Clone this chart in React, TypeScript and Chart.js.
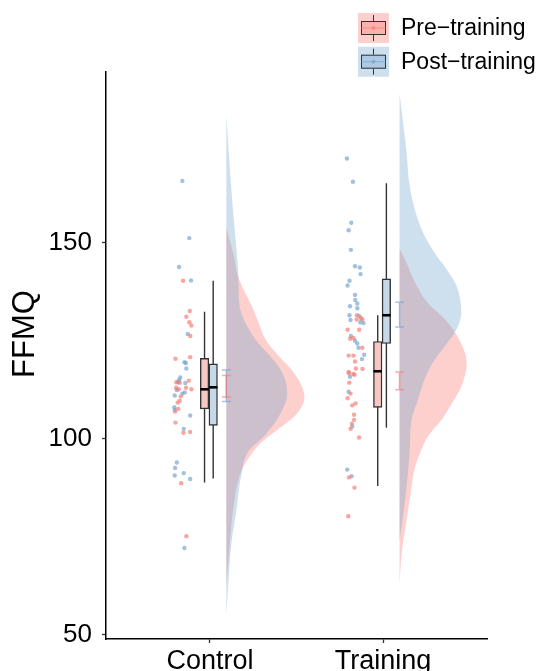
import React, { useEffect, useRef } from 'react';
import { Chart, registerables } from 'chart.js';

Chart.register(...registerables);

// ---------------- data ----------------
const GROUPS = ['Control', 'Training'];
const CONDITIONS = ['Pre\u2212training', 'Post\u2212training'];
const Y_TICKS = [50, 100, 150];
const Y_TITLE = 'FFMQ';

// raw scores (rain) and their jittered x positions
const CONTROL_PRE_Y = [140.3, 132.6, 131.1, 129.7, 128.9, 126.2, 120.8, 120.4, 114.8, 114.4, 114.3, 113.0, 113.0, 112.6, 112.6, 110.8, 109.7, 109.2, 107.6, 106.9, 104.1, 101.5, 101.7, 88.6, 75.1];
const CONTROL_PRE_X = [0.845, 0.884, 0.864, 0.881, 0.893, 0.887, 0.886, 0.801, 0.878, 0.806, 0.826, 0.805, 0.862, 0.820, 0.893, 0.832, 0.826, 0.814, 0.818, 0.799, 0.801, 0.847, 0.886, 0.834, 0.864];
const CONTROL_POST_Y = [165.8, 151.2, 143.8, 140.4, 126.7, 119.5, 119.3, 117.9, 115.6, 115.0, 114.4, 114.2, 112.4, 111.8, 111.5, 111.0, 108.0, 107.4, 105.9, 102.5, 93.9, 92.5, 91.2, 90.6, 89.7, 72.1];
const CONTROL_POST_X = [0.841, 0.881, 0.822, 0.891, 0.872, 0.853, 0.861, 0.864, 0.829, 0.822, 0.816, 0.858, 0.809, 0.855, 0.841, 0.797, 0.795, 0.797, 0.886, 0.849, 0.809, 0.799, 0.849, 0.797, 0.886, 0.853];
const TRAINING_PRE_Y = [131.5, 130.8, 130.4, 130.4, 127.8, 127.8, 125.5, 125.7, 123.2, 121.2, 121.2, 119.7, 117.9, 117.8, 117.0, 116.7, 116.5, 116.3, 114.3, 111.5, 110.3, 108.5, 109.0, 106.1, 104.8, 103.8, 102.5, 100.3, 90.1, 87.5, 80.2];
const TRAINING_PRE_X = [1.849, 1.872, 1.881, 1.847, 1.795, 1.862, 1.810, 1.829, 1.880, 1.801, 1.829, 1.838, 1.843, 1.881, 1.801, 1.803, 1.828, 1.835, 1.805, 1.812, 1.795, 1.822, 1.841, 1.832, 1.832, 1.820, 1.812, 1.861, 1.803, 1.835, 1.799];
const TRAINING_POST_Y = [171.5, 165.6, 155.1, 153.2, 148.2, 144.0, 143.7, 142.0, 140.3, 139.1, 136.7, 135.4, 134.5, 133.8, 133.3, 131.5, 131.3, 130.3, 129.7, 129.5, 126.2, 125.0, 124.3, 123.2, 121.4, 120.3, 115.8, 112.0, 103.1, 92.1, 90.4];
const TRAINING_POST_X = [1.791, 1.826, 1.816, 1.801, 1.814, 1.838, 1.866, 1.870, 1.806, 1.795, 1.838, 1.839, 1.851, 1.809, 1.851, 1.806, 1.862, 1.812, 1.868, 1.887, 1.814, 1.838, 1.851, 1.858, 1.891, 1.878, 1.809, 1.801, 1.822, 1.793, 1.818];

// box stats: [lower whisker, Q1, median, Q3, upper whisker]
const CONTROL_PRE_BOX = [88.8, 107.6, 112.6, 120.5, 132.4];
const CONTROL_POST_BOX = [89.8, 103.4, 113.1, 119.1, 140.3];
const TRAINING_PRE_BOX = [87.9, 108.0, 117.2, 124.8, 131.5];
const TRAINING_POST_BOX = [102.8, 124.3, 131.5, 140.8, 165.2];

// mean +/- SE: [low, high]
const CONTROL_PRE_SE = [110.6, 116.1];
const CONTROL_POST_SE = [109.5, 117.5];
const TRAINING_PRE_SE = [112.5, 117.0];
const TRAINING_POST_SE = [128.5, 134.8];

// density clouds: score levels and relative density
const CONTROL_PRE_DENS_Y = [153.7, 147.2, 141.1, 134.1, 129.8, 125.4, 121.1, 116.7, 110.6, 106.3, 101.9, 99.3, 94.9, 90.6, 81.9, 73.2, 62.7];
const CONTROL_PRE_DENS = [0, 0.09, 0.154, 0.32, 0.41, 0.5, 0.67, 0.87, 1.0, 0.9, 0.63, 0.46, 0.28, 0.17, 0.087, 0.044, 0];
const CONTROL_POST_DENS_Y = [182.5, 170.8, 160.3, 154.2, 141.1, 134.1, 129.8, 125.4, 121.1, 116.7, 111.5, 106.3, 101.0, 96.7, 90.6, 81.9, 73.2, 64.4, 54.9];
const CONTROL_POST_DENS = [0, 0.038, 0.077, 0.103, 0.154, 0.167, 0.24, 0.37, 0.56, 0.72, 0.78, 0.69, 0.5, 0.28, 0.19, 0.13, 0.064, 0.03, 0];
const TRAINING_PRE_DENS_Y = [148.5, 146.0, 139.0, 134.6, 130.5, 126.2, 119.2, 113.3, 109.0, 104.9, 100.5, 96.2, 92.1, 87.7, 79.2, 70.5, 62.8];
const TRAINING_PRE_DENS = [0, 0.064, 0.22, 0.36, 0.58, 0.74, 0.86, 0.79, 0.67, 0.54, 0.36, 0.26, 0.19, 0.154, 0.09, 0.026, 0];
const TRAINING_POST_DENS_Y = [188.2, 181.8, 173.1, 164.6, 156.2, 151.8, 147.4, 143.3, 139.0, 132.1, 127.9, 123.6, 119.2, 115.1, 109.0, 104.9, 96.2, 87.7, 79.2, 74.1];
const TRAINING_POST_DENS = [0, 0.038, 0.09, 0.128, 0.23, 0.32, 0.45, 0.6, 0.73, 0.79, 0.73, 0.58, 0.42, 0.32, 0.22, 0.154, 0.128, 0.09, 0.038, 0];

// ---------------- layout / style ----------------
const X_MIN = 0.4;
const X_MAX = 2.6;
const Y_MIN = 48.85;
const Y_MAX = 193.6;
const PRE_BOX_OFF = -0.031;
const POST_BOX_OFF = 0.019;
const CLOUD_OFF = 0.095;
const CLOUD_SCALE = 0.451;
const CAP_HALF = 0.026;
const BOX_HALF = 0.0246;

const PINK = '248,118,109';
const BLUE = '112,161,206';
const FONT = '"Liberation Sans", Arial, Helvetica, sans-serif';

function seg(points: { x: number; y: number }[], color: string, width: number, order: number) {
  return {
    type: 'line' as const,
    data: points,
    borderColor: color,
    borderWidth: width,
    pointRadius: 0,
    fill: false,
    tension: 0,
    borderJoinStyle: 'bevel' as const,
    order,
  };
}

export default function App() {
  const ref = useRef<HTMLCanvasElement | null>(null);

  useEffect(() => {
    document.body.style.margin = '0';
    const canvas = ref.current;
    if (!canvas) return;

    const groupsData = [
      { g: 1, pre: { y: CONTROL_PRE_Y, x: CONTROL_PRE_X, box: CONTROL_PRE_BOX, se: CONTROL_PRE_SE, dy: CONTROL_PRE_DENS_Y, d: CONTROL_PRE_DENS },
        post: { y: CONTROL_POST_Y, x: CONTROL_POST_X, box: CONTROL_POST_BOX, se: CONTROL_POST_SE, dy: CONTROL_POST_DENS_Y, d: CONTROL_POST_DENS } },
      { g: 2, pre: { y: TRAINING_PRE_Y, x: TRAINING_PRE_X, box: TRAINING_PRE_BOX, se: TRAINING_PRE_SE, dy: TRAINING_PRE_DENS_Y, d: TRAINING_PRE_DENS },
        post: { y: TRAINING_POST_Y, x: TRAINING_POST_X, box: TRAINING_POST_BOX, se: TRAINING_POST_SE, dy: TRAINING_POST_DENS_Y, d: TRAINING_POST_DENS } },
    ];

    const datasets: any[] = [];
    const conds = [
      { key: 'pre', rgb: PINK, boxFill: '#F7C7C3', off: PRE_BOX_OFF, vOrder: 6 },
      { key: 'post', rgb: BLUE, boxFill: '#C6D9EB', off: POST_BOX_OFF, vOrder: 5 },
    ];

    for (const c of conds) {
      // boxes (floating bars)
      datasets.push({
        type: 'bar',
        data: groupsData.map((gd) => {
          const b = (gd as any)[c.key].box;
          return { x: gd.g + c.off, y: [b[1], b[3]] };
        }),
        backgroundColor: c.boxFill,
        borderColor: '#333333',
        borderWidth: 1.4,
        borderSkipped: false,
        barThickness: 8.5,
        grouped: false,
        order: 8,
      });
    }

    for (const gd of groupsData) {
      for (const c of conds) {
        const s = (gd as any)[c.key];
        // rain
        datasets.push({
          type: 'scatter',
          data: s.y.map((v: number, i: number) => ({ x: s.x[i], y: v })),
          backgroundColor: `rgba(${c.rgb},0.66)`,
          borderWidth: 0,
          pointRadius: 2.2,
          order: 10,
        });
        // whisker
        const bx = gd.g + c.off;
        datasets.push(seg([{ x: bx, y: s.box[0] }, { x: bx, y: s.box[4] }], '#333333', 1.4, 9));
        // median
        datasets.push(seg([{ x: bx - BOX_HALF, y: s.box[2] }, { x: bx + BOX_HALF, y: s.box[2] }], '#000000', 2.6, 7));
        // cloud
        const base = gd.g + CLOUD_OFF;
        datasets.push({
          type: 'line',
          indexAxis: 'y',
          data: s.dy.map((v: number, i: number) => ({ x: base + s.d[i] * CLOUD_SCALE, y: v })),
          borderWidth: 0,
          borderColor: 'rgba(0,0,0,0)',
          backgroundColor: `rgba(${c.rgb},0.34)`,
          pointRadius: 0,
          fill: 'shape',
          cubicInterpolationMode: 'monotone',
          order: c.vOrder,
        });
        // mean +/- SE
        const lo = s.se[0];
        const hi = s.se[1];
        datasets.push(
          seg(
            [
              { x: base - CAP_HALF, y: hi },
              { x: base + CAP_HALF, y: hi },
              { x: base, y: hi },
              { x: base, y: lo },
              { x: base - CAP_HALF, y: lo },
              { x: base + CAP_HALF, y: lo },
            ],
            `rgba(${c.rgb},0.6)`,
            1.5,
            4
          )
        );
      }
    }

    const decor = {
      id: 'decor',
      afterDraw(chart: any) {
        const ctx = chart.ctx;
        // y title
        ctx.save();
        ctx.fillStyle = '#000';
        ctx.font = `31px ${FONT}`;
        ctx.textAlign = 'center';
        ctx.textBaseline = 'middle';
        ctx.translate(25, 334);
        ctx.rotate(-Math.PI / 2);
        ctx.fillText(Y_TITLE, 0, 0);
        ctx.restore();

        // legend
        const rgbs = [PINK, BLUE];
        for (let i = 0; i < CONDITIONS.length; i++) {
          const kx = 358;
          const ky = 13 + i * 33.7;
          const kw = 31;
          const kh = 30;
          ctx.save();
          ctx.fillStyle = `rgba(${rgbs[i]},0.34)`;
          ctx.fillRect(kx, ky, kw, kh);
          ctx.strokeStyle = '#333';
          ctx.lineWidth = 1;
          const cx = kx + kw / 2;
          ctx.beginPath();
          ctx.moveTo(cx, ky + 2);
          ctx.lineTo(cx, ky + 8);
          ctx.moveTo(cx, ky + kh - 8);
          ctx.lineTo(cx, ky + kh - 2);
          ctx.stroke();
          ctx.fillStyle = `rgba(${rgbs[i]},0.35)`;
          ctx.fillRect(kx + 3, ky + 8, kw - 6, kh - 16);
          ctx.strokeRect(kx + 3 + 0.5, ky + 8 + 0.5, kw - 7, kh - 17);
          ctx.strokeStyle = `rgba(${rgbs[i]},0.6)`;
          ctx.beginPath();
          ctx.moveTo(kx + 3, ky + kh / 2);
          ctx.lineTo(kx + kw - 3, ky + kh / 2);
          ctx.stroke();
          ctx.fillStyle = `rgba(${rgbs[i]},0.6)`;
          ctx.beginPath();
          ctx.arc(cx, ky + kh / 2, 2, 0, Math.PI * 2);
          ctx.fill();
          ctx.fillStyle = '#000';
          ctx.font = `23px ${FONT}`;
          ctx.textAlign = 'left';
          ctx.textBaseline = 'middle';
          ctx.fillText(CONDITIONS[i], 401, ky + kh / 2 + 1);
          ctx.restore();
        }
      },
    };

    const chart = new Chart(canvas, {
      type: 'scatter',
      data: { datasets },
      options: {
        responsive: false,
        animation: false,
        events: [],
        devicePixelRatio: 1,
        layout: { padding: { left: 0, right: 53, top: 72, bottom: 0 } },
        plugins: { legend: { display: false }, tooltip: { enabled: false }, title: { display: false } },
        scales: {
          x: {
            type: 'linear',
            offset: false,
            min: X_MIN,
            max: X_MAX,
            afterBuildTicks: (s: any) => {
              s.ticks = GROUPS.map((_, i) => ({ value: i + 1 }));
            },
            afterFit: (s: any) => {
              s.height = 32;
            },
            ticks: {
              autoSkip: false,
              maxRotation: 0,
              padding: 2,
              color: '#000',
              font: { family: FONT, size: 27 },
              callback: (v: any) => GROUPS[Math.round(Number(v)) - 1] ?? '',
            },
            grid: { display: true, offset: false, drawOnChartArea: false, drawTicks: true, tickLength: 4, tickColor: '#333', tickWidth: 1.3 },
            border: { display: true, color: '#000', width: 1.5 },
          },
          y: {
            type: 'linear',
            min: Y_MIN,
            max: Y_MAX,
            afterBuildTicks: (s: any) => {
              s.ticks = Y_TICKS.map((v) => ({ value: v }));
            },
            afterFit: (s: any) => {
              s.width = 106;
            },
            ticks: {
              autoSkip: false,
              padding: 10,
              color: '#000',
              font: { family: FONT, size: 26 },
              callback: (v: any) => String(v),
            },
            grid: { display: true, drawOnChartArea: false, drawTicks: true, tickLength: 4, tickColor: '#333', tickWidth: 1.3 },
            border: { display: true, color: '#000', width: 1.5 },
          },
        },
      },
      plugins: [decor],
    } as any);

    return () => chart.destroy();
  }, []);

  return <canvas ref={ref} width={540} height={671} style={{ display: 'block' }} />;
}
